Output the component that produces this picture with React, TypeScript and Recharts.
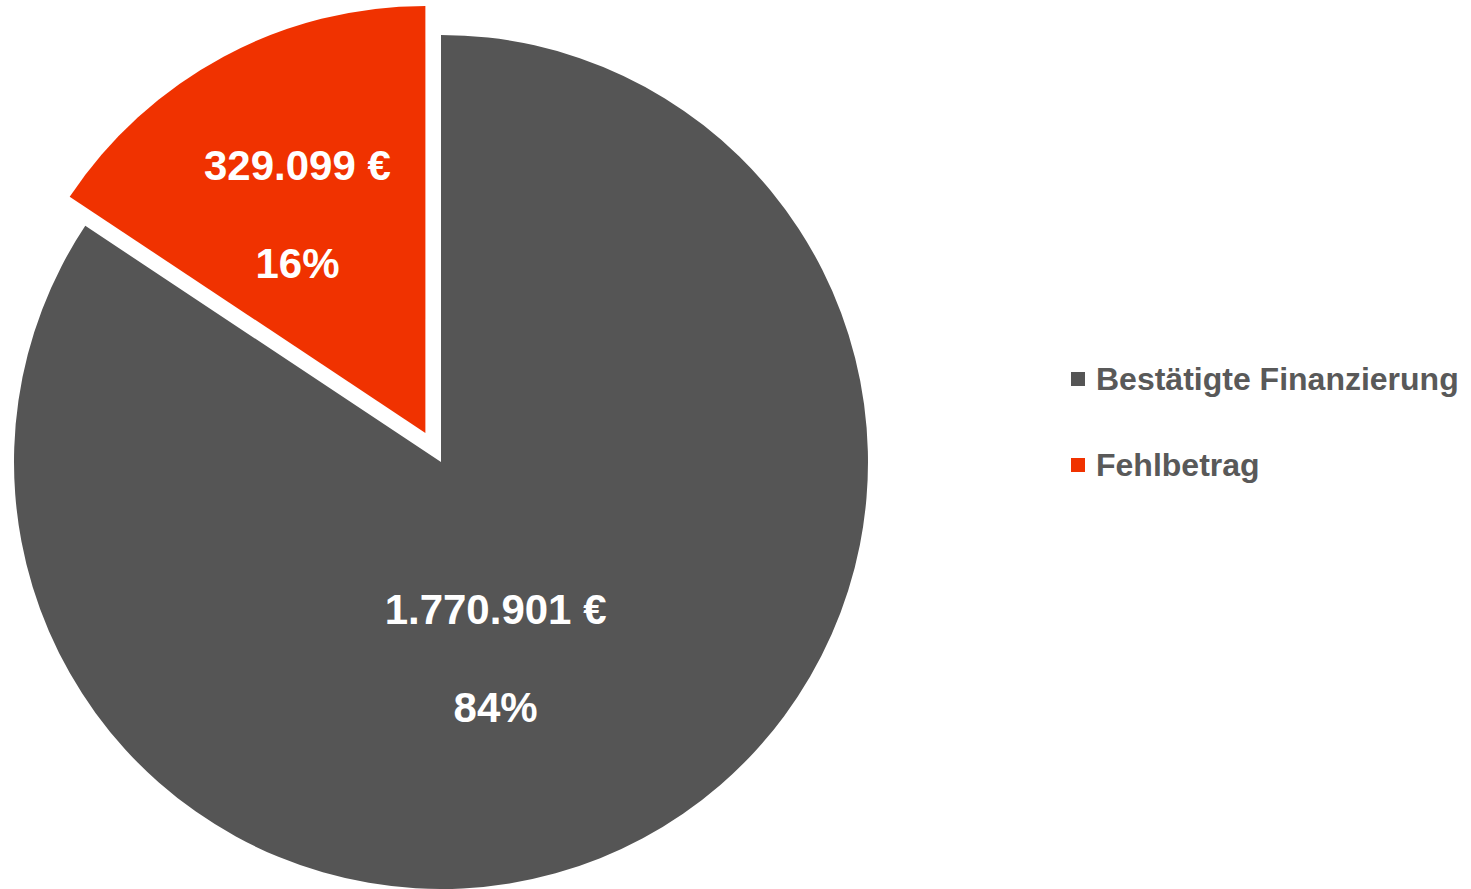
import { Cell, Legend, Pie, PieChart } from 'recharts';

const categories = ['Bestätigte Finanzierung', 'Fehlbetrag'];
const amounts = [1770901, 329099];
const colors = ['#555555', '#f03200'];

const data = categories.map((name, i) => ({ name, value: amounts[i] }));
const total = amounts.reduce((a, b) => a + b, 0);

const CX = 441;
const CY = 462;
const R = 427;
const EXPLODE = 33;
const RAD = Math.PI / 180;

// red slice is pulled out along its mid angle
const redStart = 90 - (amounts[0] / total) * 360;
const redMid = redStart - ((amounts[1] / total) * 360) / 2;
const exX = CX + EXPLODE * Math.cos(redMid * RAD);
const exY = CY - EXPLODE * Math.sin(redMid * RAD);

// label placement: radius (fraction of R) and angle shift from the slice mid angle
const labelPlace = [
  { r: 0.478, shift: -12.7 },
  { r: 0.592, shift: 2.2 },
];

const fmt = (v: number) => String(v).replace(/\B(?=(\d{3})+(?!\d))/g, '.');

const renderLabel = (visible: number) => (props: any) => {
  const { cx, cy, midAngle, outerRadius, index, value, percent } = props;
  if (index !== visible) return null;
  const p = labelPlace[index];
  const a = (midAngle + p.shift) * RAD;
  const x = cx + outerRadius * p.r * Math.cos(a);
  const y = cy - outerRadius * p.r * Math.sin(a);
  const style = { fontFamily: '"Liberation Sans", Arial, sans-serif', fontWeight: 700, fontSize: 42, fill: '#ffffff' };
  return (
    <g>
      <text x={x} y={y - 49} textAnchor="middle" dominantBaseline="central" style={style}>
        {fmt(value)} €
      </text>
      <text x={x} y={y + 49} textAnchor="middle" dominantBaseline="central" style={style}>
        {Math.round(percent * 100)}%
      </text>
    </g>
  );
};

const LegendBox = () => (
  <div style={{ fontFamily: '"Liberation Sans", Arial, sans-serif', fontWeight: 700, fontSize: 32, color: '#595959' }}>
    {categories.map((c, i) => (
      <div key={c} style={{ display: 'flex', alignItems: 'center', height: 36, marginBottom: 50 }}>
        <span style={{ width: 14, height: 14, background: colors[i], marginRight: 11, display: 'inline-block' }} />
        <span>{c}</span>
      </div>
    ))}
  </div>
);

export default function App() {
  return (
    <div style={{ position: 'absolute', left: 0, top: 0, width: 1471, height: 889, background: '#ffffff' }}>
      <PieChart width={1471} height={889} margin={{ top: 0, right: 0, bottom: 0, left: 0 }}>
        <Pie
          data={data}
          dataKey="value"
          nameKey="name"
          cx={CX}
          cy={CY}
          outerRadius={R}
          startAngle={90}
          endAngle={-270}
          stroke="none"
          labelLine={false}
          label={renderLabel(0)}
          isAnimationActive={false}
        >
          {data.map((d, i) => (
            <Cell key={d.name} fill={i === 0 ? colors[0] : 'none'} />
          ))}
        </Pie>
        <Pie
          data={data}
          dataKey="value"
          nameKey="name"
          cx={exX}
          cy={exY}
          outerRadius={R}
          startAngle={90}
          endAngle={-270}
          stroke="none"
          labelLine={false}
          label={renderLabel(1)}
          isAnimationActive={false}
        >
          {data.map((d, i) => (
            <Cell key={d.name} fill={i === 1 ? colors[1] : 'none'} />
          ))}
        </Pie>
        <Legend
          layout="vertical"
          align="right"
          verticalAlign="top"
          content={<LegendBox />}
          wrapperStyle={{ left: 1071, top: 361, width: 400 }}
        />
      </PieChart>
    </div>
  );
}
